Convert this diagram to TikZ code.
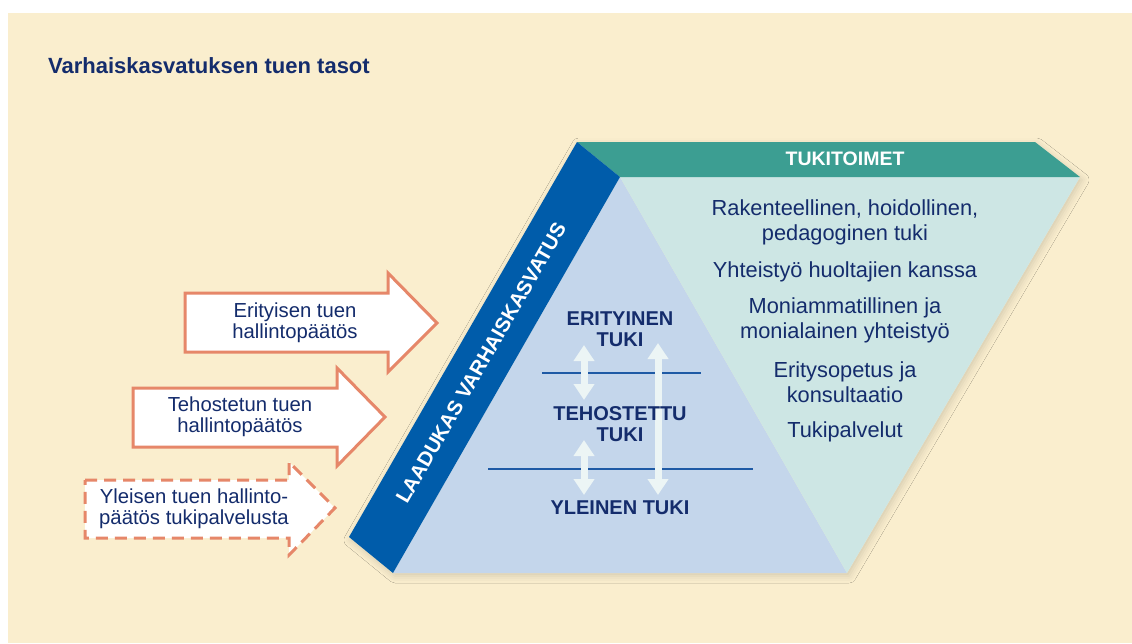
\documentclass[tikz,border=0pt]{standalone}
\usepackage{fontspec}
\setmainfont{Liberation Sans}
\usetikzlibrary{arrows.meta,shadows.blur}
\definecolor{cream}{RGB}{250,238,206}
\definecolor{navy}{RGB}{20,44,108}
\definecolor{bandblue}{RGB}{0,92,170}
\definecolor{pyrblue}{RGB}{196,214,235}
\definecolor{paleteal}{RGB}{205,230,228}
\definecolor{headteal}{RGB}{60,158,146}
\definecolor{salmon}{RGB}{230,135,105}
\definecolor{linec}{RGB}{30,90,165}
\definecolor{arrw}{RGB}{236,245,245}
\tikzset{
  lvl/.style={font=\bfseries\fontsize{20}{21}\selectfont, text=navy, align=center, inner sep=0pt},
  meas/.style={font=\fontsize{21.8}{25}\selectfont, text=navy, align=center, inner sep=0pt},
  arrtxt/.style={font=\fontsize{20.3}{21}\selectfont, text=navy, align=center, inner sep=0pt},
  arrowbox/.style={fill=white, draw=salmon, line width=3pt, line join=miter},
  dblarr/.style={draw=arrw, line width=7pt, {Triangle[width=20pt,length=16pt]}-{Triangle[width=20pt,length=16pt]}},
  lvlline/.style={draw=linec, line width=1.5pt},
}
\begin{document}
\begin{tikzpicture}[x=1pt,y=-1pt]
\useasboundingbox (0,0) rectangle (1132,643);
\fill[white] (0,0) rectangle (1132,643);
\fill[cream] (8,13) rectangle (1132,643);

% title
\node[anchor=west, font=\bfseries\fontsize{22}{24}\selectfont, text=navy, inner sep=0pt] (title) at (48,66) {Varhaiskasvatuksen tuen tasot};

% main shape coordinates
\coordinate (bt) at (577,142);
\coordinate (tr1) at (1035,142);
\coordinate (tr2) at (1080,177);
\coordinate (apex) at (620,177);
\coordinate (bot) at (847,573);
\coordinate (bbr) at (393,573);
\coordinate (bbl) at (349,537);

% shadow
\path[blur shadow={shadow xshift=2pt, shadow yshift=-3pt, shadow blur radius=7pt, shadow opacity=15}, fill=cream]
  (bt) -- (tr1) -- (tr2) -- (bot) -- (bbr) -- (bbl) -- cycle;

\fill[pyrblue] (apex) -- (bot) -- (bbr) -- cycle;
\fill[paleteal] (apex) -- (tr2) -- (bot) -- cycle;
\fill[headteal] (bt) -- (tr1) -- (tr2) -- (apex) -- cycle;
\fill[bandblue] (bt) -- (apex) -- (bbr) -- (bbl) -- cycle;

\node[font=\bfseries\fontsize{19.5}{21}\selectfont, text=white, inner sep=0pt] (head) at (845,159) {TUKITOIMET};
\node[font=\bfseries\fontsize{20.4}{22}\selectfont, text=white, inner sep=0pt, rotate=60] (band) at (481,363) {LAADUKAS VARHAISKASVATUS};

% level lines
\coordinate (l1a) at (542,373); \coordinate (l1b) at (701,373);
\coordinate (l2a) at (488,469); \coordinate (l2b) at (753,469);
\draw[lvlline] (l1a) -- (l1b);
\draw[lvlline] (l2a) -- (l2b);

% double arrows
\coordinate (a1t) at (584,345); \coordinate (a1b) at (584,400);
\coordinate (a2t) at (584,440); \coordinate (a2b) at (584,495);
\coordinate (a3t) at (658,343); \coordinate (a3b) at (658,495);
\draw[dblarr] (a1t) -- (a1b);
\draw[dblarr] (a2t) -- (a2b);
\draw[dblarr] (a3t) -- (a3b);

% level labels
\node[lvl] (eri) at (620,329.5) {ERITYINEN\\TUKI};
\node[lvl] (teh) at (620,424) {TEHOSTETTU\\TUKI};
\node[lvl] (yle) at (620,508) {YLEINEN TUKI};

% measures
\node[meas] (m1) at (845,222.5) {Rakenteellinen, hoidollinen,\\pedagoginen tuki};
\node[meas] (m2) at (845,272) {Yhteistyö huoltajien kanssa};
\node[meas] (m3) at (845,320.5) {Moniammatillinen ja\\monialainen yhteistyö};
\node[meas] (m4) at (845,382.5) {Eritysopetus ja\\konsultaatio};
\node[meas] (m5) at (845,432) {Tukipalvelut};

% left arrows
\draw[arrowbox] (185,293) -- (388,293) -- (388,273) -- (437,323) -- (388,372) -- (388,352) -- (185,352) -- cycle;
\draw[arrowbox] (133,388) -- (337,388) -- (337,368) -- (385,417) -- (337,466) -- (337,447) -- (133,447) -- cycle;
\draw[arrowbox, dash pattern=on 12pt off 7pt] (85,480) -- (289,480) -- (289,462) -- (335,508) -- (289,555) -- (289,538) -- (85,538) -- cycle;

\node[arrtxt] (t1) at (295,323) {Erityisen tuen\\hallintopäätös};
\node[arrtxt] (t2) at (240,416.5) {Tehostetun tuen\\hallintopäätös};
\node[arrtxt] (t3) at (194,509) {Yleisen tuen hallinto-\\päätös tukipalvelusta};
\end{tikzpicture}
\end{document}
